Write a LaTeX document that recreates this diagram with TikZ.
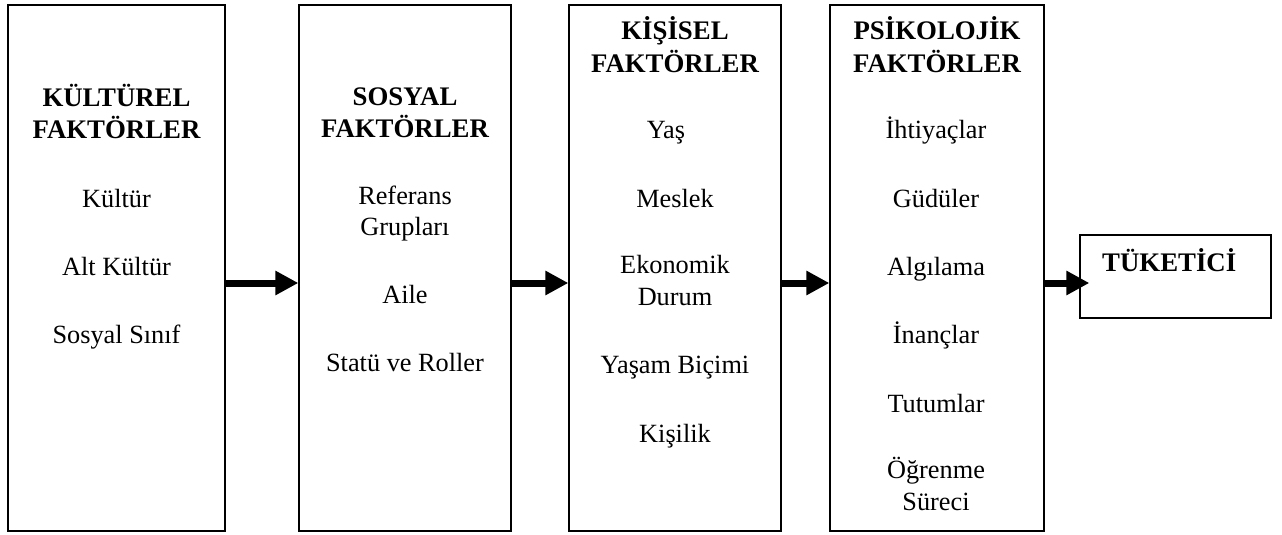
\documentclass[tikz,border=0pt]{standalone}
\usepackage{fontspec}
\setmainfont{Liberation Serif}
\usetikzlibrary{arrows.meta}
\begin{document}
\begin{tikzpicture}[x=1pt,y=-1pt,
  box/.style={draw=black, line width=1.3pt, inner sep=0pt},
  head/.style={font=\fontsize{26.8}{32}\selectfont\bfseries, anchor=base, inner sep=0pt},
  item/.style={font=\fontsize{26.3}{32}\selectfont, anchor=base, inner sep=0pt},
  arr/.style={draw=black, line width=7pt, -{Triangle[length=23pt,width=23pt]}}]
\useasboundingbox (0,0) rectangle (1282,535);
% boxes
\node[box, minimum width=217pt, minimum height=526pt] (b1) at (116.5,268) {};
\node[box, minimum width=212pt, minimum height=526pt] (b2) at (405,268) {};
\node[box, minimum width=212pt, minimum height=526pt] (b3) at (675,268) {};
\node[box, minimum width=214pt, minimum height=526pt] (b4) at (937,268) {};
\node[box, minimum width=191pt, minimum height=83pt] (b5) at (1175.5,276.5) {};
% box 1
\node[head] (h1a) at (116.5,106) {KÜLTÜREL};
\node[head] (h1b) at (116.5,138) {FAKTÖRLER};
\node[item] (k1) at (116.5,207) {Kültür};
\node[item] (k2) at (116.5,275) {Alt Kültür};
\node[item] (k3) at (116.5,343) {Sosyal Sınıf};
% box 2
\node[head] (h2a) at (405,105) {SOSYAL};
\node[head] (h2b) at (405,137) {FAKTÖRLER};
\node[item] (s1a) at (405,204) {Referans};
\node[item] (s1b) at (405,235) {Grupları};
\node[item] (s2) at (405,303) {Aile};
\node[item] (s3) at (405,371) {Statü ve Roller};
% box 3
\node[head] (h3a) at (675,40) {KİŞİSEL};
\node[head] (h3b) at (675,72) {FAKTÖRLER};
\node[item] (p1) at (666,138) {Yaş};
\node[item] (p2) at (675,207) {Meslek};
\node[item] (p3a) at (675,273) {Ekonomik};
\node[item] (p3b) at (675,305) {Durum};
\node[item] (p4) at (675,373) {Yaşam Biçimi};
\node[item] (p5) at (675,442) {Kişilik};
% box 4
\node[head] (h4a) at (937,40) {PSİKOLOJİK};
\node[head] (h4b) at (937,72) {FAKTÖRLER};
\node[item] (q1) at (936,138) {İhtiyaçlar};
\node[item] (q2) at (936,207) {Güdüler};
\node[item] (q3) at (936,275) {Algılama};
\node[item] (q4) at (936,343) {İnançlar};
\node[item] (q5) at (936,412) {Tutumlar};
\node[item] (q6a) at (936,478) {Öğrenme};
\node[item] (q6b) at (936,510) {Süreci};
% box 5
\node[head, anchor=base west] (t) at (1102,271) {TÜKETİCİ};
% arrows
\draw[arr] ([yshift=-15pt]b1.east) -- ([yshift=-15pt]b2.west);
\draw[arr] ([yshift=-15pt]b2.east) -- ([yshift=-15pt]b3.west);
\draw[arr] ([yshift=-15pt]b3.east) -- ([yshift=-15pt]b4.west);
\draw[arr] ([yshift=-15pt]b4.east) -- ([xshift=10pt,yshift=-6.5pt]b5.west);
\end{tikzpicture}
\end{document}
